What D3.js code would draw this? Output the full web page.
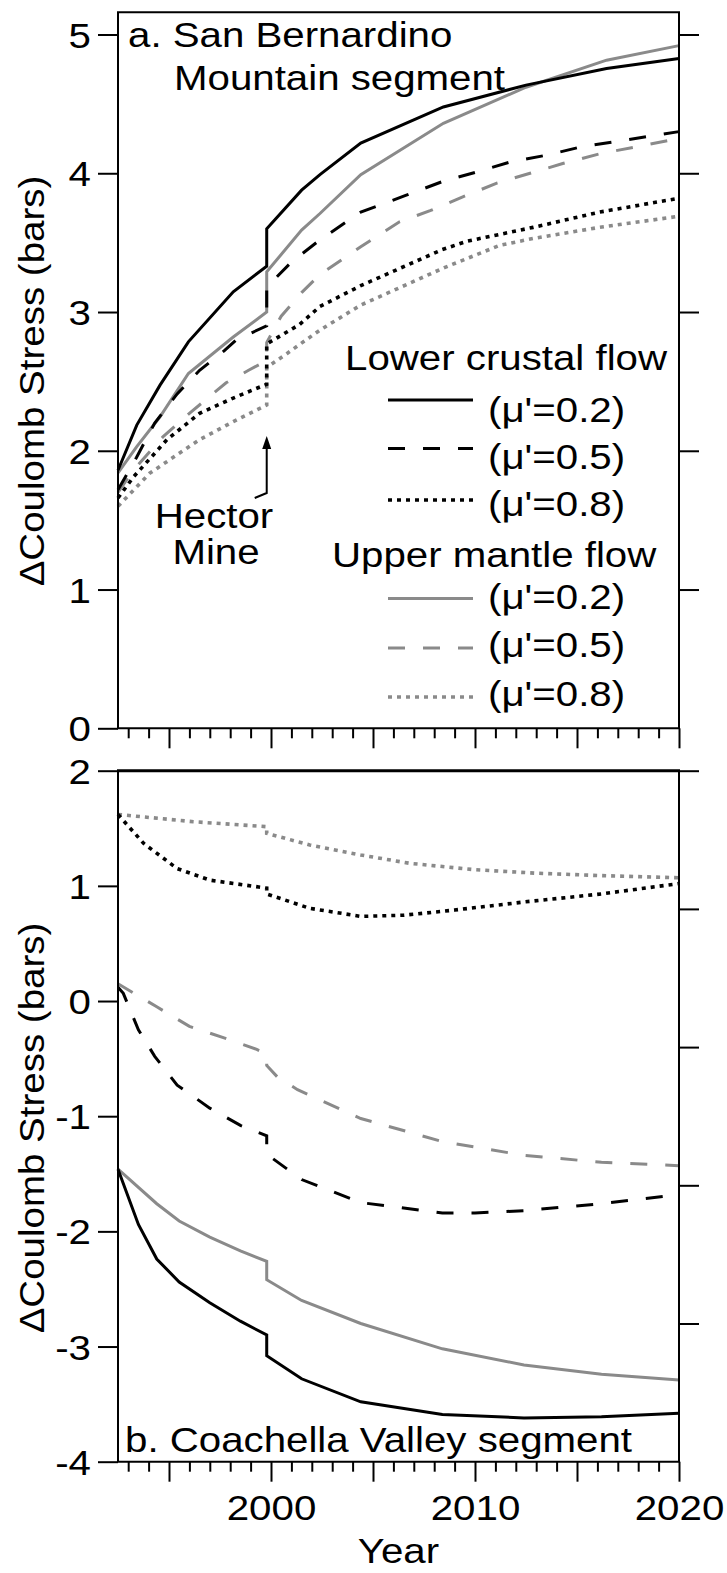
<!DOCTYPE html>
<html>
<head>
<meta charset="utf-8">
<script src="https://cdn.jsdelivr.net/npm/d3@7"></script>
<style>
  body { margin: 0; background: #fff; }
  svg { display: block; }
  text { font-family: "Liberation Sans", Arial, Helvetica, sans-serif; fill: #000; }
</style>
</head>
<body>
<svg id="chart" width="727" height="1573"></svg>
<script>
// ---- model output: Coulomb stress change (bars) versus year ----
const hectorMine = 1999.79;

// a. San Bernardino Mountain segment
const sbLower02 = [[1992.5,1.86],[1993.42,2.185],[1994.56,2.473],[1995.95,2.785],[1998.15,3.146],[hectorMine,3.33],[hectorMine,3.60],[2001.5,3.878],[2002.4,3.99],[2004.4,4.217],[2008.45,4.478],[2012.5,4.635],[2016.45,4.755],[2020,4.827]];
const sbLower05 = [[1992.5,1.72],[1993.4,1.95],[1994.3,2.20],[1995.4,2.41],[1996.5,2.58],[1997.7,2.72],[1998.3,2.80],[hectorMine,2.90],[hectorMine,3.18],[2001.0,3.36],[2002.4,3.52],[2004.4,3.72],[2006.6,3.84],[2008.4,3.94],[2010.1,4.01],[2011.7,4.08],[2013.5,4.13],[2015.2,4.19],[2020,4.30]];
const sbLower08 = [[1992.5,1.66],[1993.25,1.81],[1994.9,2.08],[1996.5,2.27],[1998.15,2.38],[hectorMine,2.48],[hectorMine,2.77],[2001.4,2.91],[2002.4,3.04],[2004.4,3.19],[2008.4,3.45],[2009.6,3.51],[2012.85,3.61],[2016.1,3.72],[2020,3.82]];
const sbMantle02 = [[1992.5,1.84],[1993.42,2.03],[1994.56,2.245],[1995.95,2.557],[1998.15,2.82],[hectorMine,3.0],[hectorMine,3.29],[2001.5,3.59],[2002.4,3.71],[2004.4,3.99],[2008.45,4.36],[2012.5,4.62],[2016.45,4.815],[2020,4.92]];
const sbMantle05 = [[1992.5,1.70],[1993.25,1.86],[1994.7,2.10],[1996.0,2.27],[1997.8,2.49],[1998.9,2.58],[hectorMine,2.65],[hectorMine,2.78],[2000.5,2.97],[2001.5,3.14],[2002.4,3.27],[2004.4,3.47],[2006.3,3.65],[2007.8,3.73],[2009.4,3.83],[2011.1,3.93],[2012.7,4.0],[2014.3,4.07],[2016.1,4.14],[2020,4.25]];
const sbMantle08 = [[1992.5,1.60],[1994.07,1.84],[1996.5,2.08],[1998.15,2.21],[hectorMine,2.33],[hectorMine,2.60],[2000.77,2.70],[2002.4,2.87],[2004.4,3.05],[2008.5,3.32],[2011.2,3.48],[2012.85,3.53],[2016.1,3.61],[2020,3.69]];

// b. Coachella Valley segment
const cvLower02 = [[1992.5,-1.46],[1993.5,-1.94],[1994.4,-2.24],[1995.5,-2.44],[1997.0,-2.62],[1998.5,-2.78],[hectorMine,-2.90],[hectorMine,-3.08],[2001.5,-3.28],[2004.4,-3.48],[2008.4,-3.59],[2012.4,-3.62],[2016.2,-3.61],[2020,-3.58]];
const cvLower05 = [[1992.5,0.12],[1992.76,0.067],[1993.5,-0.25],[1994.3,-0.48],[1995.4,-0.73],[1997.0,-0.93],[1998.5,-1.08],[hectorMine,-1.17],[hectorMine,-1.33],[2001.5,-1.55],[2004.4,-1.75],[2008.4,-1.84],[2010.0,-1.84],[2012.4,-1.82],[2016.2,-1.76],[2020,-1.68]];
const cvLower08 = [[1992.5,1.62],[1993.75,1.37],[1995.4,1.15],[1997.0,1.05],[1999.4,0.99],[hectorMine,0.98],[hectorMine,0.93],[2001.9,0.805],[2004.4,0.735],[2006.5,0.745],[2009.0,0.79],[2012.4,0.86],[2016.2,0.93],[2020,1.02]];
const cvMantle02 = [[1992.5,-1.46],[1994.4,-1.76],[1995.5,-1.91],[1997.0,-2.05],[1998.5,-2.17],[hectorMine,-2.26],[hectorMine,-2.42],[2001.5,-2.6],[2004.4,-2.80],[2008.4,-3.02],[2012.4,-3.16],[2016.2,-3.24],[2020,-3.29]];
const cvMantle05 = [[1992.5,0.15],[1994.4,-0.05],[1996.0,-0.22],[1997.7,-0.32],[1999.3,-0.42],[hectorMine,-0.46],[hectorMine,-0.56],[2000.3,-0.657],[2001.3,-0.77],[2004.4,-1.02],[2008.4,-1.22],[2012.4,-1.34],[2016.2,-1.40],[2020,-1.43]];
const cvMantle08 = [[1992.5,1.62],[1996.2,1.557],[hectorMine,1.514],[hectorMine,1.456],[2001.9,1.355],[2004.4,1.268],[2006.8,1.196],[2010.0,1.14],[2013.0,1.11],[2016.0,1.09],[2020,1.07]];

// axis ticks and labels
const yearTicks = d3.range(1993, 2021);
const yearLabels = [2000, 2010, 2020];
const ticksA = [0, 1, 2, 3, 4, 5];
const ticksB = [-4, -3, -2, -1, 0, 1, 2];
const ticksBRight = [1, 2, 3, 4, 5];
const frictionLabels = ["(\u03bc'=0.2)", "(\u03bc'=0.5)", "(\u03bc'=0.8)"];
const legendHeaders = ["Lower crustal flow", "Upper mantle flow"];

// ---- styles ----
const BLACK = "#000", GRAY = "#8a8a8a";
const DASH = "17,18", DOT = "4,5";
const FS = 35, SX = 1.15;

const svg = d3.select("#chart");

const x = d3.scaleLinear().domain([1992.5, 2020]).range([118, 679]);
const yA = d3.scaleLinear().domain([0, 5.16]).range([728.3, 12.3]);
const yB = d3.scaleLinear().domain([-4, 2]).range([1461.7, 770.7]);
const yBRight = d3.scaleLinear().domain([0, 5]).range([1461.7, 770.7]);

// text drawn with a slight horizontal widening of the face
function label(parent, px, py, str, anchor = "start", rot = 0, sx = SX) {
  parent.append("g")
    .attr("transform", `translate(${px},${py}) rotate(${rot}) scale(${sx},1)`)
    .append("text")
    .attr("text-anchor", anchor)
    .attr("font-size", FS)
    .text(str);
}

const seriesA = [
  { data: sbLower02, color: BLACK, dash: null },
  { data: sbLower05, color: BLACK, dash: DASH },
  { data: sbLower08, color: BLACK, dash: DOT },
  { data: sbMantle02, color: GRAY, dash: null },
  { data: sbMantle05, color: GRAY, dash: DASH },
  { data: sbMantle08, color: GRAY, dash: DOT }
];
const seriesB = [
  { data: cvLower02, color: BLACK, dash: null },
  { data: cvLower05, color: BLACK, dash: DASH },
  { data: cvLower08, color: BLACK, dash: DOT },
  { data: cvMantle02, color: GRAY, dash: null },
  { data: cvMantle05, color: GRAY, dash: DASH },
  { data: cvMantle08, color: GRAY, dash: DOT }
];

function strokeWidth(s) { return s.dash === DOT ? 3.6 : 3; }

function drawSeries(g, list, y) {
  const line = d3.line().x(d => x(d[0])).y(d => y(d[1]));
  // mantle curves first so the crustal curves sit on top
  [...list].reverse().forEach(s => {
    g.append("path")
      .attr("d", line(s.data))
      .attr("fill", "none")
      .attr("stroke", s.color)
      .attr("stroke-width", strokeWidth(s))
      .attr("stroke-linejoin", "miter")
      .attr("stroke-dasharray", s.dash);
  });
}

function styleAxis(g) {
  g.select(".domain").remove();
  g.selectAll("line").attr("stroke", "#000").attr("stroke-width", 2);
}

function fixTickText(g, sx = SX) {
  g.selectAll("text").each(function () {
    const t = d3.select(this);
    const tx = +t.attr("x") || 0, ty = +t.attr("y") || 0;
    t.attr("x", 0).attr("y", 0)
      .attr("transform", `translate(${tx},${ty}) scale(${sx},1)`)
      .attr("font-size", FS)
      .attr("font-family", null)
      .attr("fill", "#000");
  });
}

function drawPanel(y, yTicks, yRight, rightTicks, top, bottom, series, withYearLabels, topWidth) {
  const g = svg.append("g");
  drawSeries(g, series, y);

  // x ticks below the frame: minor every year, major every five
  const minor = g.append("g").attr("transform", `translate(0,${bottom})`)
    .call(d3.axisBottom(x).tickValues(yearTicks.filter(d => d % 5 !== 0)).tickSize(10).tickFormat(""));
  styleAxis(minor);
  const major = g.append("g").attr("transform", `translate(0,${bottom})`)
    .call(d3.axisBottom(x).tickValues(yearTicks.filter(d => d % 5 === 0)).tickSize(20)
      .tickPadding(13)
      .tickFormat(d => withYearLabels && yearLabels.includes(d) ? String(d) : ""));
  styleAxis(major);
  major.selectAll("text").attr("dy", "0.71em");
  fixTickText(major);

  // left y axis (plain hyphen for negative values)
  const left = g.append("g").attr("transform", `translate(118,0)`)
    .call(d3.axisLeft(y).tickValues(yTicks).tickSize(20).tickPadding(7).tickFormat(d => String(d)));
  styleAxis(left);
  left.selectAll("text").attr("dy", "0.36em");
  fixTickText(left);

  // right side ticks
  const right = g.append("g").attr("transform", `translate(679,0)`)
    .call(d3.axisRight(yRight).tickValues(rightTicks).tickSize(20).tickFormat(""));
  styleAxis(right);

  // frame
  const frame = g.append("g").attr("stroke", "#000").attr("fill", "none");
  frame.append("line").attr("x1", 118).attr("x2", 118).attr("y1", top).attr("y2", bottom).attr("stroke-width", 2);
  frame.append("line").attr("x1", 679).attr("x2", 679).attr("y1", top).attr("y2", bottom).attr("stroke-width", 2);
  frame.append("line").attr("x1", 117).attr("x2", 680).attr("y1", bottom).attr("y2", bottom).attr("stroke-width", 2);
  frame.append("line").attr("x1", 117).attr("x2", 680).attr("y1", top).attr("y2", top).attr("stroke-width", topWidth);
  return g;
}

// ---- panel a ----
const gA = drawPanel(yA, ticksA, yA, [1, 2, 3, 4, 5], yA.range()[1], yA.range()[0], seriesA, false, 2);
label(gA, 128, 46.5, "a. San Bernardino");
label(gA, 174, 89.5, "Mountain segment");

// Hector Mine marker
const hx = x(hectorMine);
gA.append("path")
  .attr("d", `M${hx - 12},498 L${hx},493 L${hx},446`)
  .attr("fill", "none").attr("stroke", "#000").attr("stroke-width", 2);
gA.append("path")
  .attr("d", `M${hx},436 L${hx - 4.5},449 L${hx + 4.5},449 Z`)
  .attr("fill", "#000");
label(gA, 214, 528, "Hector", "middle");
label(gA, 216, 564, "Mine", "middle");

// legend
const legend = gA.append("g");
label(legend, 345, 370, legendHeaders[0]);
label(legend, 332, 566.5, legendHeaders[1]);
const legendRows = [
  { s: seriesA[0], ly: 400, ty: 421.6, t: frictionLabels[0] },
  { s: seriesA[1], ly: 448.5, ty: 468.8, t: frictionLabels[1] },
  { s: seriesA[2], ly: 500, ty: 515.6, t: frictionLabels[2] },
  { s: seriesA[3], ly: 598.5, ty: 608.6, t: frictionLabels[0] },
  { s: seriesA[4], ly: 648, ty: 657.2, t: frictionLabels[1] },
  { s: seriesA[5], ly: 697, ty: 706.2, t: frictionLabels[2] }
];
legendRows.forEach(r => {
  legend.append("line")
    .attr("x1", 388).attr("x2", 473).attr("y1", r.ly).attr("y2", r.ly)
    .attr("stroke", r.s.color).attr("stroke-width", strokeWidth(r.s))
    .attr("stroke-dasharray", r.s.dash);
  label(legend, 488, r.ty, r.t);
});

// ---- panel b ----
const gB = drawPanel(yB, ticksB, yBRight, ticksBRight, yB.range()[1], yB.range()[0], seriesB, true, 3);
label(gB, 125, 1451.7, "b. Coachella Valley segment");

// axis titles
label(svg, 44, 381, "\u0394Coulomb Stress (bars)", "middle", -90, 1.1);
label(svg, 44, 1128, "\u0394Coulomb Stress (bars)", "middle", -90, 1.1);
label(svg, 398.5, 1563, "Year", "middle");
</script>
</body>
</html>
